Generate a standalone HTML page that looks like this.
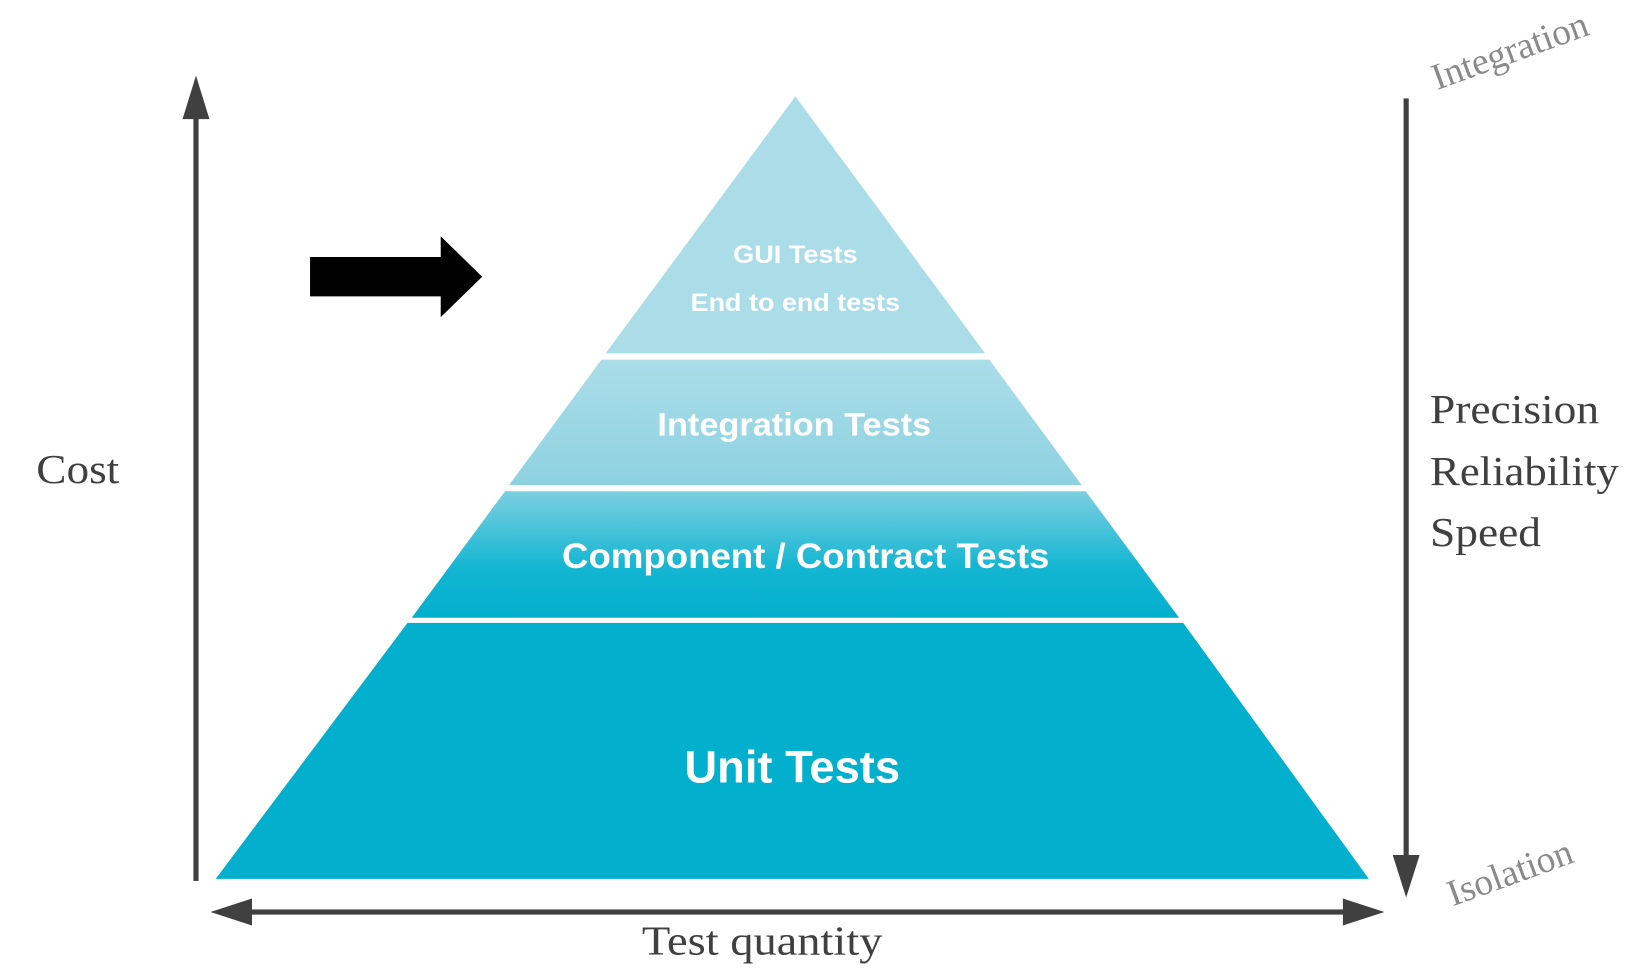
<!DOCTYPE html>
<html><head><meta charset="utf-8"><style>html,body{margin:0;padding:0;background:#fff;}svg{display:block}</style></head>
<body>
<svg width="1626" height="968" viewBox="0 0 1568 934" preserveAspectRatio="none" xmlns="http://www.w3.org/2000/svg">
<defs>
<linearGradient id="g2" x1="0" y1="0" x2="0" y2="1"><stop offset="0" stop-color="#aadde8"/><stop offset="1" stop-color="#8ed2e1"/></linearGradient>
<linearGradient id="g3" x1="0" y1="0" x2="0" y2="1"><stop offset="0" stop-color="#7ccfe0"/><stop offset="0.6" stop-color="#14b6d2"/><stop offset="1" stop-color="#02afcc"/></linearGradient>
</defs>
<polygon points="767,93 584,341 950,341" fill="#aadde8"/>
<polygon points="580,347 954,347 1043,468 491,468" fill="url(#g2)"/>
<polygon points="487,474 1047,474 1137,596 397,596" fill="url(#g3)"/>
<polygon points="393,601 1141,601 1320,848 208,848" fill="#02afcc"/>
<g fill="#fff" font-family="'Liberation Sans',sans-serif" font-weight="bold" text-anchor="middle">
<text x="767" y="254" font-size="24" textLength="120" lengthAdjust="spacingAndGlyphs">GUI Tests</text>
<text x="767" y="300" font-size="24" textLength="202" lengthAdjust="spacingAndGlyphs">End to end tests</text>
<text x="766" y="420" font-size="31" textLength="264" lengthAdjust="spacingAndGlyphs">Integration Tests</text>
<text x="777" y="548" font-size="34" textLength="470" lengthAdjust="spacingAndGlyphs">Component / Contract Tests</text>
<text x="764" y="755" font-size="44" textLength="208" lengthAdjust="spacingAndGlyphs">Unit Tests</text>
</g>
<polygon points="299,248 425,248 425,228 465,267 425,306 425,286 299,286" fill="#000"/>
<g fill="#404040" stroke="none">
<rect x="186.5" y="110" width="5" height="740"/>
<polygon points="189,73 202,115 176,115"/>
<rect x="1353.5" y="95" width="5" height="735"/>
<polygon points="1356,866 1369,825 1343,825"/>
<rect x="240" y="877.5" width="1060" height="5"/>
<polygon points="203,880 243,867 243,893"/>
<polygon points="1335,880 1295,867 1295,893"/>
</g>
<g font-family="'Liberation Serif',serif" fill="#404040" font-size="40">
<text x="35" y="466" textLength="80" lengthAdjust="spacingAndGlyphs">Cost</text>
<text x="735" y="921" text-anchor="middle" textLength="232" lengthAdjust="spacingAndGlyphs">Test quantity</text>
<text x="1379" y="408" textLength="163" lengthAdjust="spacingAndGlyphs">Precision</text>
<text x="1379" y="468" textLength="182" lengthAdjust="spacingAndGlyphs">Reliability</text>
<text x="1379" y="527" textLength="107" lengthAdjust="spacingAndGlyphs">Speed</text>
</g>
<g font-family="'Liberation Serif',serif" fill="#8a8a8a" font-size="36" text-anchor="middle">
<text transform="translate(1460,60) rotate(-20)">Integration</text>
<text transform="translate(1460,853) rotate(-20)">Isolation</text>
</g>
</svg>
</body></html>
